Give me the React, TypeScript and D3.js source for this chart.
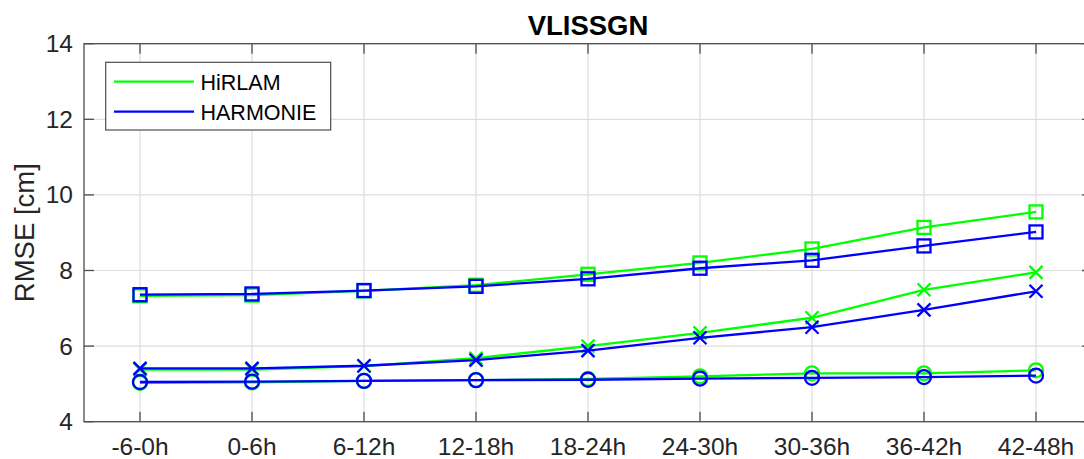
import React from "react";
import * as d3 from "d3";

const categories = ["-6-0h", "0-6h", "6-12h", "12-18h", "18-24h", "24-30h", "30-36h", "36-42h", "42-48h"];
const yTicks = [4, 6, 8, 10, 12, 14];

const hirlamSquare = [7.33, 7.35, 7.46, 7.61, 7.9, 8.2, 8.57, 9.14, 9.55];
const harmonieSquare = [7.36, 7.38, 7.47, 7.58, 7.78, 8.06, 8.27, 8.65, 9.02];
const hirlamCross = [5.38, 5.38, 5.47, 5.68, 6.0, 6.35, 6.75, 7.49, 7.95];
const harmonieCross = [5.41, 5.41, 5.48, 5.63, 5.88, 6.22, 6.5, 6.96, 7.45];
const hirlamCircle = [5.03, 5.04, 5.08, 5.1, 5.13, 5.2, 5.28, 5.28, 5.36];
const harmonieCircle = [5.05, 5.06, 5.08, 5.1, 5.11, 5.14, 5.16, 5.18, 5.22];

const W = 1084;
const H = 459;
const left = 84;
const right = 1092;
const top = 43.7;
const bottom = 421.7;
const FONT = "'Liberation Sans', Arial, Helvetica, sans-serif";
const GREEN = "#00ff00";
const BLUE = "#0000ff";
const AXIS = "#4d4d4d";
const TEXT = "#262626";

type Series = { values: number[]; color: string; marker: "square" | "cross" | "circle" };

const series: Series[] = [
  { values: hirlamSquare, color: GREEN, marker: "square" },
  { values: hirlamCross, color: GREEN, marker: "cross" },
  { values: hirlamCircle, color: GREEN, marker: "circle" },
  { values: harmonieSquare, color: BLUE, marker: "square" },
  { values: harmonieCross, color: BLUE, marker: "cross" },
  { values: harmonieCircle, color: BLUE, marker: "circle" },
];

export default function App() {
  const x = d3.scaleLinear().domain([0.5, categories.length + 0.5]).range([left, right]);
  const y = d3.scaleLinear().domain([4, 14]).range([bottom, top]);
  const line = d3
    .line<number>()
    .x((_, i) => x(i + 1))
    .y((d) => y(d));

  const sw = 2.3;
  const marker = (m: Series["marker"], cx: number, cy: number, color: string, key: string) => {
    if (m === "square") {
      const s = 6.5;
      return <rect key={key} x={cx - s} y={cy - s} width={2 * s} height={2 * s} fill="none" stroke={color} strokeWidth={sw} />;
    }
    if (m === "circle") {
      return <circle key={key} cx={cx} cy={cy} r={7} fill="none" stroke={color} strokeWidth={sw} />;
    }
    const s = 6.5;
    return (
      <path key={key} d={`M${cx - s},${cy - s}L${cx + s},${cy + s}M${cx - s},${cy + s}L${cx + s},${cy - s}`} stroke={color} strokeWidth={sw} fill="none" />
    );
  };

  const tickLen = 10;

  return (
    <svg width={W} height={H} style={{ position: "absolute", left: 0, top: 0, background: "#fff" }} fontFamily={FONT}>
      <rect x={0} y={0} width={W} height={H} fill="#fff" />
      {/* grid */}
      {categories.map((_, i) => (
        <line key={"gx" + i} x1={x(i + 1)} x2={x(i + 1)} y1={top} y2={bottom} stroke="#dedede" strokeWidth={1.2} />
      ))}
      {yTicks.map((t) => (
        <line key={"gy" + t} x1={left} x2={right} y1={y(t)} y2={y(t)} stroke="#dedede" strokeWidth={1.2} />
      ))}
      {/* axes box */}
      <rect x={left} y={top} width={right - left} height={bottom - top} fill="none" stroke={AXIS} strokeWidth={1.3} />
      {/* ticks */}
      {categories.map((_, i) => (
        <g key={"tx" + i}>
          <line x1={x(i + 1)} x2={x(i + 1)} y1={bottom} y2={bottom - tickLen} stroke={AXIS} strokeWidth={1.3} />
          <line x1={x(i + 1)} x2={x(i + 1)} y1={top} y2={top + tickLen} stroke={AXIS} strokeWidth={1.3} />
        </g>
      ))}
      {yTicks.map((t) => (
        <g key={"ty" + t}>
          <line x1={left} x2={left + tickLen} y1={y(t)} y2={y(t)} stroke={AXIS} strokeWidth={1.3} />
          <line x1={right} x2={right - tickLen} y1={y(t)} y2={y(t)} stroke={AXIS} strokeWidth={1.3} />
        </g>
      ))}
      {/* tick labels */}
      {categories.map((c, i) => (
        <text key={"lx" + i} x={x(i + 1)} y={455} textAnchor="middle" fontSize={24.5} fill={TEXT}>
          {c}
        </text>
      ))}
      {yTicks.map((t) => (
        <text key={"ly" + t} x={73} y={y(t) + 8.5} textAnchor="end" fontSize={24.5} fill={TEXT}>
          {t}
        </text>
      ))}
      {/* axis label */}
      <text transform={`translate(33.5, ${(top + bottom) / 2}) rotate(-90)`} textAnchor="middle" fontSize={27.5} fill={TEXT}>
        RMSE [cm]
      </text>
      {/* title */}
      <text x={(left + right) / 2} y={35} textAnchor="middle" fontSize={27.5} fontWeight="bold" fill="#000">
        VLISSGN
      </text>
      {/* series */}
      {series.map((s, si) => (
        <g key={"s" + si}>
          <path d={line(s.values) || ""} fill="none" stroke={s.color} strokeWidth={sw} />
          {s.values.map((v, i) => marker(s.marker, x(i + 1), y(v), s.color, `m${si}-${i}`))}
        </g>
      ))}
      {/* legend */}
      <rect x={105.7} y={62.3} width={225} height={67.7} fill="#fff" stroke={AXIS} strokeWidth={1.2} />
      <line x1={114} x2={194} y1={81.7} y2={81.7} stroke={GREEN} strokeWidth={sw} />
      <line x1={114} x2={194} y1={111.7} y2={111.7} stroke={BLUE} strokeWidth={sw} />
      <text x={200.5} y={89.5} fontSize={21.5} fill="#000">HiRLAM</text>
      <text x={200.5} y={119.5} fontSize={21.5} fill="#000">HARMONIE</text>
    </svg>
  );
}
